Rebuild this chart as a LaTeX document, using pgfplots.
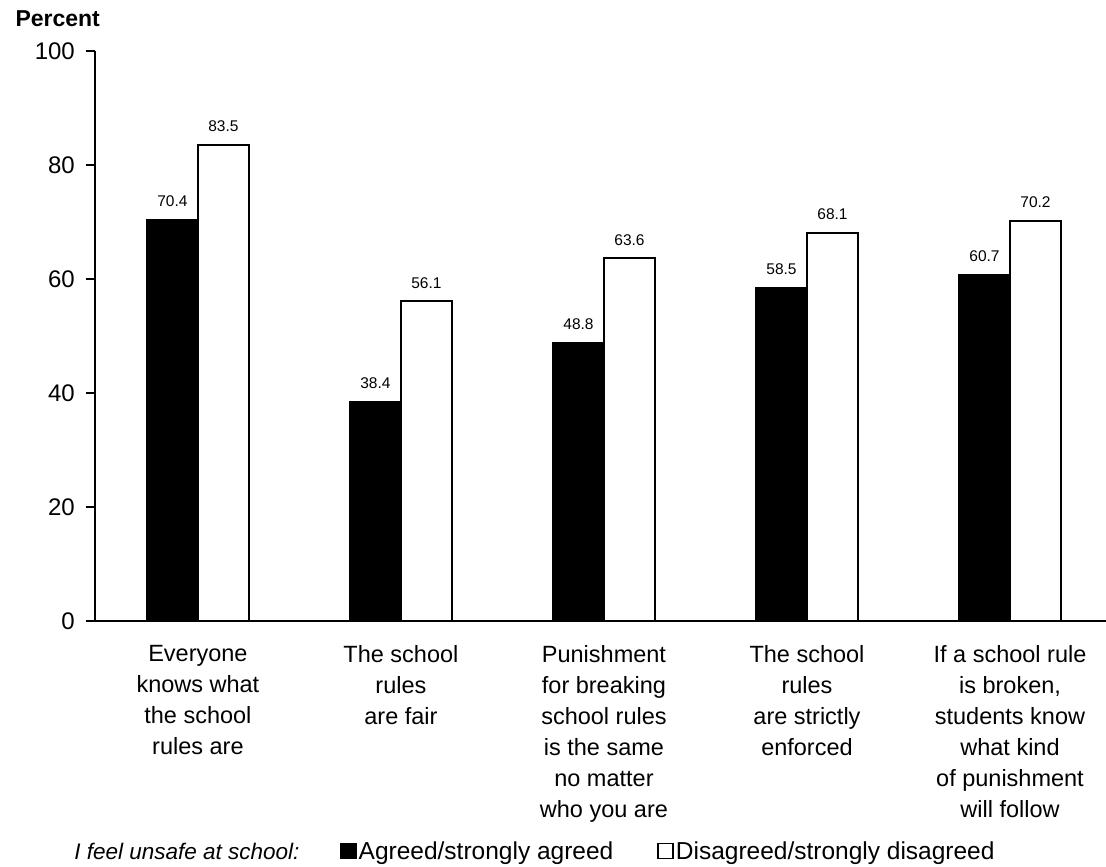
\documentclass[border=0pt]{standalone}
\usepackage{fontspec}
\setmainfont{Liberation Sans}
\usepackage{pgfplots}
\pgfplotsset{compat=1.18}
\begin{document}
\begin{tikzpicture}
\useasboundingbox (-95pt,-246pt) rectangle (1011pt,621pt);
\begin{axis}[
  name=ax,
  at={(0,0)}, anchor=south west,
  scale only axis, width=1011pt, height=570pt,
  xmin=-0.507, xmax=4.473, ymin=0, ymax=100,
  clip=false,
  axis lines=left,
  axis line style={-, line width=2.5pt},
  ybar=0pt, bar width=51pt,
  ytick={0,20,40,60,80,100},
  xtick={0,1,2,3,4},
  xticklabels={{Everyone\\knows what\\the school\\rules are},
               {The school\\rules\\are fair},
               {Punishment\\for breaking\\school rules\\is the same\\no matter\\who you are},
               {The school\\rules\\are strictly\\enforced},
               {If a school rule\\is broken,\\students know\\what kind\\of punishment\\will follow}},
  major x tick style={draw=none},
  tick align=outside,
  major tick length=9pt,
  major y tick style={line width=2.5pt, black},
  /pgf/number format/assume math mode=true,
  yticklabel style={font=\fontsize{24}{24}\selectfont, inner sep=0pt, xshift=-11pt},
  xticklabel style={align=center, font=\fontsize{23.5}{31}\selectfont, inner sep=0pt, yshift=-15pt},
  nodes near coords,
  nodes near coords style={font=\fontsize{15.5}{16}\selectfont, inner sep=0pt, yshift=12pt,
     /pgf/number format/.cd, fixed, precision=1, fixed zerofill},
  legend style={at={(0,0)}, anchor=west, xshift=245pt, yshift=-230pt,
     draw=none, fill=none, inner sep=0pt,
     font=\fontsize{24.5}{24.5}\selectfont, legend columns=2,
     nodes={inner sep=0pt},
     /tikz/every odd column/.append style={column sep=2pt},
     /tikz/every even column/.append style={column sep=44pt}},
]
\addplot[fill=black, draw=black, line width=2pt,
  legend image code/.code={\draw[fill=black,draw=black,line width=1.5pt] (0pt,-7.5pt) rectangle (15pt,7.5pt);}]
  coordinates {(0,70.4) (1,38.4) (2,48.8) (3,58.5) (4,60.7)};
\addplot[fill=white, draw=black, line width=2pt,
  legend image code/.code={\draw[fill=white,draw=black,line width=1.5pt] (0pt,-7.5pt) rectangle (15pt,7.5pt);}]
  coordinates {(0,83.5) (1,56.1) (2,63.6) (3,68.1) (4,70.2)};
\legend{Agreed/strongly agreed, Disagreed/strongly disagreed}
\end{axis}
\node[anchor=base east, font=\itshape\fontsize{22.5}{22.5}\selectfont] at ([xshift=208pt,yshift=-238pt]ax.south west) {I feel unsafe at school:};
\node[anchor=base west, font=\bfseries\fontsize{23}{23}\selectfont] at ([xshift=-83pt,yshift=594pt]ax.south west) {Percent};
\end{tikzpicture}
\end{document}
